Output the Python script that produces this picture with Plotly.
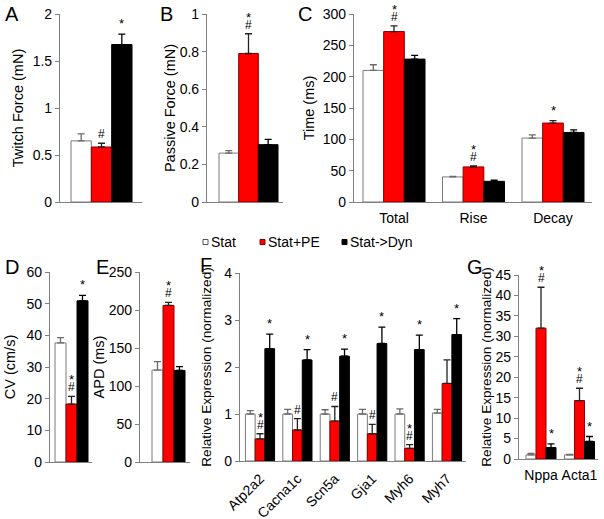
import plotly.graph_objects as go

# ---------------- data ----------------
series = ["Stat", "Stat+PE", "Stat->Dyn"]

# A: twitch force (mN)
twitch_mean = [0.65, 0.585, 1.675]
twitch_err = [0.075, 0.04, 0.11]
twitch_marks = ["", "#", "*"]

# B: passive force (mN)
passive_mean = [0.26, 0.79, 0.305]
passive_err = [0.013, 0.105, 0.028]
passive_marks = ["", "*#", ""]

# C: time (ms)
time_cats = ["Total", "Rise", "Decay"]
time_stat = [210, 40, 102]
time_stat_err = [9, 1, 5]
time_pe = [272, 56, 126]
time_pe_err = [9, 1.5, 4]
time_dyn = [228, 33, 111]
time_dyn_err = [6, 2, 4]
time_pe_marks = ["*#", "*#", "*"]
time_dyn_marks = ["", "", ""]

# D: conduction velocity (cm/s)
cv_mean = [37.6, 18.3, 50.9]
cv_err = [1.7, 2.4, 1.7]
cv_marks = ["", "*#", "*"]

# E: APD (ms)
apd_mean = [121, 206, 120.5]
apd_err = [11, 4, 5]
apd_marks = ["", "*#", ""]

# F: relative expression (normalized)
genes = ["Atp2a2", "Cacna1c", "Scn5a", "Gja1", "Myh6", "Myh7"]
gene_stat = [1.0, 1.0, 1.0, 1.0, 1.0, 1.02]
gene_stat_err = [0.07, 0.1, 0.09, 0.1, 0.11, 0.08]
gene_pe = [0.47, 0.66, 0.85, 0.58, 0.27, 1.65]
gene_pe_err = [0.11, 0.24, 0.31, 0.2, 0.08, 0.5]
gene_dyn = [2.39, 2.15, 2.23, 2.5, 2.37, 2.69]
gene_dyn_err = [0.31, 0.22, 0.15, 0.35, 0.31, 0.34]
gene_pe_marks = ["*#", "#", "#", "#", "*#", ""]
gene_dyn_marks = ["*", "*", "*", "*", "*", "*"]

# G: fetal genes
fetal = ["Nppa", "Acta1"]
fetal_stat = [1.0, 1.0]
fetal_stat_err = [0.4, 0.15]
fetal_pe = [32.0, 14.3]
fetal_pe_err = [10.0, 3.0]
fetal_dyn = [2.8, 4.3]
fetal_dyn_err = [0.9, 1.2]
fetal_pe_marks = ["*#", "*#"]
fetal_dyn_marks = ["*", "*"]

# ---------------- style ----------------
W, H = 604, 519
FONT = "Liberation Sans, Arial, sans-serif"
BARGAP = 0.22
fills = ["white", "#ff0000", "black"]
outlines = ["#7a7a7a", "#8a0000", "black"]
errcols = ["#6a6a6a", "#222222", "black"]
AXCOL = "#808080"


def px_x(a, b):
    return [a / W, b / W]


def px_y(bottom, top):
    return [(H - bottom) / H, (H - top) / H]


fig = go.Figure()
annotations = []
shapes = []


def add_panel(idx, cats, means, errs, marks, xdom, ydom, left, right, c0, sp,
              yrange, dtick, title, letter, letter_xy, standoff,
              show_xlabels=False, tickangle=0, title_size=14.5):
    xa = "x" if idx == 1 else f"x{idx}"
    ya = "y" if idx == 1 else f"y{idx}"
    bw = (1 - BARGAP) / 3
    for s in range(3):
        fig.add_trace(go.Bar(
            x=cats, y=means[s], name=series[s], xaxis=xa, yaxis=ya,
            marker=dict(color=fills[s], line=dict(color=outlines[s], width=1)),
            error_y=dict(type="data", symmetric=False, array=errs[s],
                         arrayminus=[0] * len(cats), color=errcols[s],
                         thickness=1.3, width=3.5),
            showlegend=False, offsetgroup=str(s)))
        for i, m in enumerate(marks[s]):
            if not m:
                continue
            xpos = i + (s - 1) * bw
            top = means[s][i] + errs[s][i]
            shift = 0
            if "#" in m:
                annotations.append(dict(x=xpos, y=top, xref=xa, yref=ya,
                                        text="#", showarrow=False, yanchor="bottom",
                                        yshift=0, font=dict(size=12, family=FONT)))
                shift = 6
            if "*" in m:
                annotations.append(dict(x=xpos, y=top, xref=xa, yref=ya,
                                        text="*", showarrow=False, yanchor="bottom",
                                        yshift=shift + 1, font=dict(size=13, family=FONT)))
    xr = [(left - c0) / sp, (right - c0) / sp]
    xkey = "xaxis" if idx == 1 else f"xaxis{idx}"
    ykey = "yaxis" if idx == 1 else f"yaxis{idx}"
    fig.layout[xkey] = dict(domain=xdom, range=xr, anchor=ya, type="category",
                            automargin=False,
                            showline=True, linecolor=AXCOL, linewidth=1.2,
                            ticks="outside" if show_xlabels else "", ticklen=3,
                            tickcolor="rgba(0,0,0,0)",
                            showgrid=False, zeroline=False,
                            showticklabels=show_xlabels, tickangle=tickangle,
                            tickfont=dict(size=14, family=FONT, color="black"),
                            fixedrange=True)
    fig.layout[ykey] = dict(domain=ydom, range=yrange, anchor=xa, dtick=dtick,
                            automargin=False,
                            showline=True, linecolor=AXCOL, linewidth=1.2,
                            ticks="outside", ticklen=4, tickcolor=AXCOL,
                            showgrid=False, zeroline=False,
                            tickfont=dict(size=14, family=FONT, color="black"),
                            title=dict(text=title, standoff=standoff,
                                       font=dict(size=title_size, family=FONT, color="black")))
    annotations.append(dict(x=letter_xy[0] / W, y=(H - letter_xy[1]) / H, xref="paper",
                            yref="paper", text=letter, showarrow=False,
                            xanchor="center", yanchor="middle",
                            font=dict(size=20, family=FONT, color="black")))


one = lambda v: [[v[0]], [v[1]], [v[2]]]

add_panel(1, ["A"], one(twitch_mean), one(twitch_err), one(twitch_marks),
          px_x(60, 142), px_y(202, 14), 60, 142, 101.5, 61 / (1 - BARGAP),
          [0, 2], 0.5, "Twitch Force (mN)", "A", (12, 14), 5)
add_panel(2, ["B"], one(passive_mean), one(passive_err), one(passive_marks),
          px_x(207, 283), px_y(202, 14), 207, 283, 248.5, 59 / (1 - BARGAP),
          [0, 1], 0.2, "Passive Force (mN)", "B", (166, 14), 0)
add_panel(3, time_cats, [time_stat, time_pe, time_dyn],
          [time_stat_err, time_pe_err, time_dyn_err],
          [["", "", ""], time_pe_marks, time_dyn_marks],
          px_x(354, 592), px_y(202, 14), 354, 592, 394, 79.5,
          [0, 300], 50, "Time (ms)", "C", (305, 14), 4, show_xlabels=True)
add_panel(4, ["D"], one(cv_mean), one(cv_err), one(cv_marks),
          px_x(50, 92), px_y(462, 272), 50, 92, 71.5, 33 / (1 - BARGAP),
          [0, 60], 10, "CV (cm/s)", "D", (12, 267), 7)
add_panel(5, ["E"], one(apd_mean), one(apd_err), one(apd_marks),
          px_x(140, 190), px_y(462, 272), 140, 190, 168.5, 33 / (1 - BARGAP),
          [0, 250], 50, "APD (ms)", "E", (102, 267), 0)
add_panel(6, genes, [gene_stat, gene_pe, gene_dyn],
          [gene_stat_err, gene_pe_err, gene_dyn_err],
          [[""] * 6, gene_pe_marks, gene_dyn_marks],
          px_x(240, 466), px_y(461, 273), 240, 466, 260, 37.4,
          [0, 4], 1, "Relative Expression (normalized)", "F", (206, 265), 9,
          show_xlabels=True, tickangle=-45, title_size=13.6)
add_panel(7, fetal, [fetal_stat, fetal_pe, fetal_dyn],
          [fetal_stat_err, fetal_pe_err, fetal_dyn_err],
          [["", ""], fetal_pe_marks, fetal_dyn_marks],
          px_x(519, 598), px_y(459, 275), 519, 598, 541, 38.5,
          [0, 45], 5, "Relative Expression (normalized)", "G", (475, 267), 0,
          show_xlabels=True, title_size=13.6)

# legend (manual, small squares)
legend_x = [203, 260, 342]
legend_y = 242
legend_edges = ["#555555", "#8a0000", "black"]
for s in range(3):
    x0 = legend_x[s]
    shapes.append(dict(type="rect", xref="paper", yref="paper",
                       x0=x0 / W, x1=(x0 + 5) / W,
                       y0=(H - legend_y - 2.5) / H, y1=(H - legend_y + 2.5) / H,
                       fillcolor=fills[s], line=dict(color=legend_edges[s], width=1)))
    annotations.append(dict(x=(x0 + 6) / W, y=(H - legend_y) / H, xref="paper",
                            yref="paper", text=series[s], showarrow=False,
                            xanchor="left", yanchor="middle",
                            font=dict(size=14, family=FONT, color="black")))

fig.update_layout(
    width=W, height=H, margin=dict(l=0, r=0, t=0, b=0),
    paper_bgcolor="white", plot_bgcolor="white",
    barmode="group", bargap=BARGAP, bargroupgap=0,
    font=dict(family=FONT, color="black", size=14),
    annotations=annotations, shapes=shapes, showlegend=False,
)

fig.write_html("out.html", config={"displayModeBar": False},
               post_script="document.body.style.margin='0';document.body.style.overflow='hidden';")
